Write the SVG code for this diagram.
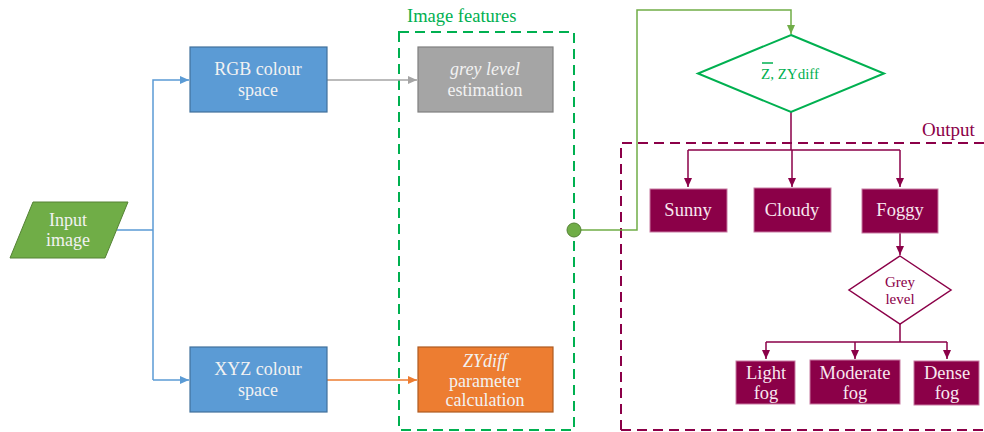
<svg xmlns="http://www.w3.org/2000/svg" width="984" height="432" viewBox="0 0 984 432" font-family="'Liberation Serif', 'DejaVu Serif', serif">
<style>
text{font-family:"Liberation Serif","DejaVu Serif",serif;}
.w{fill:#F2F2F2;font-size:18px;text-anchor:middle;}
.wp{fill:#F8E8F0;font-size:18.5px;text-anchor:middle;}
.pt{fill:#8B0048;text-anchor:middle;}
.box{fill:#8B0048;stroke:#C77AA2;stroke-width:1;}
.blue{fill:#5B9BD5;stroke:#41719C;stroke-width:1.2;}
.pl{fill:none;stroke:#8B0048;stroke-width:1.5;}
</style>
<defs>
<marker id="aB" markerUnits="userSpaceOnUse" markerWidth="10" markerHeight="10" refX="9" refY="4" orient="auto"><path d="M0,0 L9,4 L0,8 Z" fill="#5B9BD5"/></marker>
<marker id="aG" markerUnits="userSpaceOnUse" markerWidth="10" markerHeight="10" refX="9" refY="4" orient="auto"><path d="M0,0 L9,4 L0,8 Z" fill="#A5A5A5"/></marker>
<marker id="aO" markerUnits="userSpaceOnUse" markerWidth="10" markerHeight="10" refX="9" refY="4" orient="auto"><path d="M0,0 L9,4 L0,8 Z" fill="#ED7D31"/></marker>
<marker id="aL" markerUnits="userSpaceOnUse" markerWidth="10" markerHeight="10" refX="9" refY="4" orient="auto"><path d="M0,0 L9,4 L0,8 Z" fill="#70AD47"/></marker>
<marker id="aP" markerUnits="userSpaceOnUse" markerWidth="10" markerHeight="10" refX="9" refY="4" orient="auto"><path d="M0,0 L9,4 L0,8 Z" fill="#8B0048"/></marker>
</defs>

<g id="image-features-frame">
<rect x="399" y="32" width="175" height="398" fill="none" stroke="#00B050" stroke-width="2" stroke-dasharray="10,6"/>
<text x="407" y="22" font-size="18.5" fill="#00B050">Image features</text>
</g>
<g id="output-frame">
<path d="M621,430 L621,143 L990,143 M621,430 L990,430" fill="none" stroke="#8B0048" stroke-width="2" stroke-dasharray="10,6"/>
<text x="922" y="136" font-size="19" fill="#8B0048">Output</text>
</g>

<g id="connectors">
<path d="M117,230 L153,230 M153,380 L153,80 L189,80" fill="none" stroke="#5B9BD5" stroke-width="1.5" marker-end="url(#aB)"/>
<path d="M153,380 L189,380" fill="none" stroke="#5B9BD5" stroke-width="1.5" marker-end="url(#aB)"/>
<path d="M327,80 L417,80" fill="none" stroke="#A5A5A5" stroke-width="1.5" marker-end="url(#aG)"/>
<path d="M327,380 L417,380" fill="none" stroke="#ED7D31" stroke-width="1.5" marker-end="url(#aO)"/>
<path d="M580,230 L637,230 L637,10 L791,10 L791,34" fill="none" stroke="#70AD47" stroke-width="1.5" marker-end="url(#aL)"/>
<path d="M791,112 L791,150 M688,150 L900,150" class="pl"/>
<path d="M688,150 L688,187" class="pl" marker-end="url(#aP)"/>
<path d="M792,150 L792,187" class="pl" marker-end="url(#aP)"/>
<path d="M900,150 L900,187" class="pl" marker-end="url(#aP)"/>
<path d="M900,233 L900,255" class="pl" marker-end="url(#aP)"/>
<path d="M900,324 L900,342 M766,342 L947,342" class="pl"/>
<path d="M766,342 L766,359" class="pl" marker-end="url(#aP)"/>
<path d="M855,342 L855,359" class="pl" marker-end="url(#aP)"/>
<path d="M947,342 L947,359" class="pl" marker-end="url(#aP)"/>
</g>

<g id="input-image">
<polygon points="33,202 128,202 105,258 10,258" fill="#70AD47" stroke="#548235" stroke-width="1"/>
<text class="w" x="68" y="226" font-size="19">Input</text>
<text class="w" x="68" y="246" font-size="19">image</text>
</g>
<g id="rgb">
<rect class="blue" x="190" y="47" width="137" height="65"/>
<text class="w" x="258" y="75">RGB colour</text>
<text class="w" x="258" y="96">space</text>
</g>
<g id="xyz">
<rect class="blue" x="190" y="347" width="137" height="65"/>
<text class="w" x="258" y="375">XYZ colour</text>
<text class="w" x="258" y="396">space</text>
</g>
<g id="grey-level-estimation">
<rect x="418" y="47" width="135" height="65" fill="#A5A5A5" stroke="#7F7F7F" stroke-width="1.2"/>
<text class="w" x="485" y="75" font-style="italic">grey level</text>
<text class="w" x="485" y="96">estimation</text>
</g>
<g id="zydiff-calculation">
<rect x="418" y="347" width="135" height="65" fill="#ED7D31" stroke="#AE5A21" stroke-width="1.2"/>
<text class="w" x="485" y="367" font-style="italic">ZYdiff</text>
<text class="w" x="485" y="387">parameter</text>
<text class="w" x="485" y="406">calculation</text>
</g>
<g id="junction">
<circle cx="574" cy="230" r="7" fill="#70AD47" stroke="#548235" stroke-width="1"/>
</g>
<g id="decision-z">
<polygon points="791,35 884,73.5 791,112 698,73.5" fill="#FFFFFF" stroke="#00B050" stroke-width="2"/>
<line x1="762" y1="63" x2="773" y2="63" stroke="#00B050" stroke-width="1.5"/>
<text x="790" y="79" font-size="15" fill="#00B050" text-anchor="middle">Z, ZYdiff</text>
</g>
<g id="sunny">
<rect class="box" x="650" y="189" width="77" height="43"/>
<text class="wp" x="688" y="216">Sunny</text>
</g>
<g id="cloudy">
<rect class="box" x="754" y="188" width="77" height="44"/>
<text class="wp" x="792" y="216">Cloudy</text>
</g>
<g id="foggy">
<rect class="box" x="862" y="189" width="76" height="44"/>
<text class="wp" x="900" y="216">Foggy</text>
</g>
<g id="decision-grey">
<polygon points="900,256 951,290 900,324 849,290" fill="#FFFFFF" stroke="#8B0048" stroke-width="1.5"/>
<text class="pt" x="900" y="287" font-size="15">Grey</text>
<text class="pt" x="900" y="304" font-size="15">level</text>
</g>
<g id="light-fog">
<rect class="box" x="736" y="361" width="59" height="43"/>
<text class="wp" x="766" y="379">Light</text>
<text class="wp" x="766" y="399">fog</text>
</g>
<g id="moderate-fog">
<rect class="box" x="810" y="360" width="90" height="44"/>
<text class="wp" x="855" y="379">Moderate</text>
<text class="wp" x="855" y="399">fog</text>
</g>
<g id="dense-fog">
<rect class="box" x="914" y="361" width="65" height="44"/>
<text class="wp" x="947" y="379">Dense</text>
<text class="wp" x="947" y="399">fog</text>
</g>
</svg>
